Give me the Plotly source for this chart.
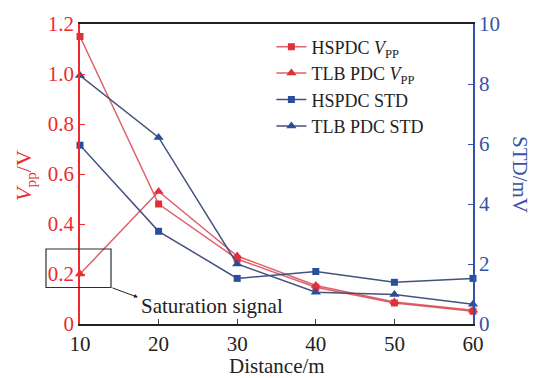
import plotly.graph_objects as go

distance = [10, 20, 30, 40, 50, 60]
hspdc_vpp = [1.15, 0.48, 0.26, 0.147, 0.084, 0.051]
tlb_vpp = [0.20, 0.53, 0.272, 0.154, 0.088, 0.055]
hspdc_std = [5.96, 3.09, 1.52, 1.75, 1.39, 1.52]
tlb_std = [8.28, 6.22, 2.0, 1.06, 0.98, 0.66]

left_ticks = [0, 0.2, 0.4, 0.6, 0.8, 1.0, 1.2]
left_ticktext = ["0", "0.2", "0.4", "0.6", "0.8", "1.0", "1.2"]
right_ticks = [0, 2, 4, 6, 8, 10]
x_ticks = [10, 20, 30, 40, 50, 60]

RED = "#ee2a2f"
RED_LINE = "rgba(215,70,80,0.85)"
RED_MK = "#e0303a"
BLUE = "#3553a6"
BLUE_LINE = "#44507f"
BLUE_MK = "#2a4f9a"
FONT = "Liberation Serif"

fig = go.Figure()
fig.add_trace(go.Scatter(x=distance, y=hspdc_vpp, mode="lines+markers",
                         name="HSPDC <i>V</i><sub>PP</sub>",
                         line=dict(color=RED_LINE, width=1.5),
                         marker=dict(symbol="square", size=7, color=RED_MK),
                         cliponaxis=False))
fig.add_trace(go.Scatter(x=distance, y=tlb_vpp, mode="lines+markers",
                         name="TLB PDC <i>V</i><sub>PP</sub>",
                         line=dict(color=RED_LINE, width=1.5),
                         marker=dict(symbol="triangle-up", size=9, color=RED_MK),
                         cliponaxis=False))
fig.add_trace(go.Scatter(x=distance, y=hspdc_std, mode="lines+markers",
                         name="HSPDC STD", yaxis="y2",
                         line=dict(color=BLUE_LINE, width=1.5),
                         marker=dict(symbol="square", size=7, color=BLUE_MK),
                         cliponaxis=False))
fig.add_trace(go.Scatter(x=distance, y=tlb_std, mode="lines+markers",
                         name="TLB PDC STD", yaxis="y2",
                         line=dict(color=BLUE_LINE, width=1.5),
                         marker=dict(symbol="triangle-up", size=9, color=BLUE_MK),
                         cliponaxis=False))

fig.update_layout(
    width=535, height=378,
    margin=dict(l=80, r=62, t=20, b=54),
    paper_bgcolor="white", plot_bgcolor="white",
    font=dict(family=FONT, size=20, color="#222"),
    showlegend=True,
    legend=dict(x=0.487, y=0.985, xanchor="left", yanchor="top",
                bgcolor="rgba(0,0,0,0)", font=dict(size=18, color="#222"),
                tracegroupgap=0, itemwidth=30),
    xaxis=dict(range=[10, 60], tickvals=x_ticks, ticks="inside", ticklen=5,
               showline=True, linecolor="#222", linewidth=1.5, mirror=True,
               showgrid=False, zeroline=False,
               tickfont=dict(color="#222", size=21)),
    yaxis=dict(range=[0, 1.2], tickvals=left_ticks, ticktext=left_ticktext,
               ticks="inside", ticklen=5, tickcolor=RED,
               showline=True, linecolor=RED, linewidth=1.5,
               showgrid=False, zeroline=False,
               tickfont=dict(color=RED, size=21)),
    yaxis2=dict(range=[0, 10], tickvals=right_ticks, overlaying="y", side="right",
                ticks="inside", ticklen=5, tickcolor=BLUE,
                showline=True, linecolor=BLUE, linewidth=1.5,
                showgrid=False, zeroline=False,
                tickfont=dict(color=BLUE, size=21)),
)

annotations = [
    dict(text="<i>V</i><sub>pp</sub>/V", xref="paper", yref="paper",
         x=(25 - 80) / 393, y=(324 - 174) / 304, xanchor="center", yanchor="middle",
         textangle=-90, showarrow=False,
         font=dict(color=RED, size=22, family=FONT)),
    dict(text="STD/mV", xref="paper", yref="paper",
         x=(520 - 80) / 393, y=(324 - 172) / 304, xanchor="center", yanchor="middle",
         textangle=90, showarrow=False,
         font=dict(color=BLUE, size=21, family=FONT)),
    dict(text="Distance/m", xref="paper", yref="paper",
         x=0.5, y=(324 - 367) / 304, xanchor="center", yanchor="middle",
         showarrow=False,
         font=dict(color="#222", size=21, family=FONT)),
    dict(text="Saturation signal", xref="paper", yref="paper",
         x=(139 - 80) / 393, y=(324 - 306) / 304, xanchor="left", yanchor="middle",
         showarrow=False,
         font=dict(color="#222", size=21, family=FONT)),
    dict(text="", xref="paper", yref="paper",
         x=(138 - 80) / 393, y=(324 - 297) / 304,
         showarrow=True, ax=-27, ay=-10, axref="pixel", ayref="pixel",
         arrowhead=2, arrowsize=0.8, arrowwidth=1, arrowcolor="#222",
         standoff=0, startstandoff=0),
]
fig.update_layout(annotations=annotations)

fig.add_shape(type="rect", xref="paper", yref="paper",
              x0=(46 - 80) / 393, x1=(111 - 80) / 393,
              y0=(324 - 287) / 304, y1=(324 - 248) / 304,
              line=dict(color="#2a2f3a", width=1.2))

fig.write_html("out.html")
